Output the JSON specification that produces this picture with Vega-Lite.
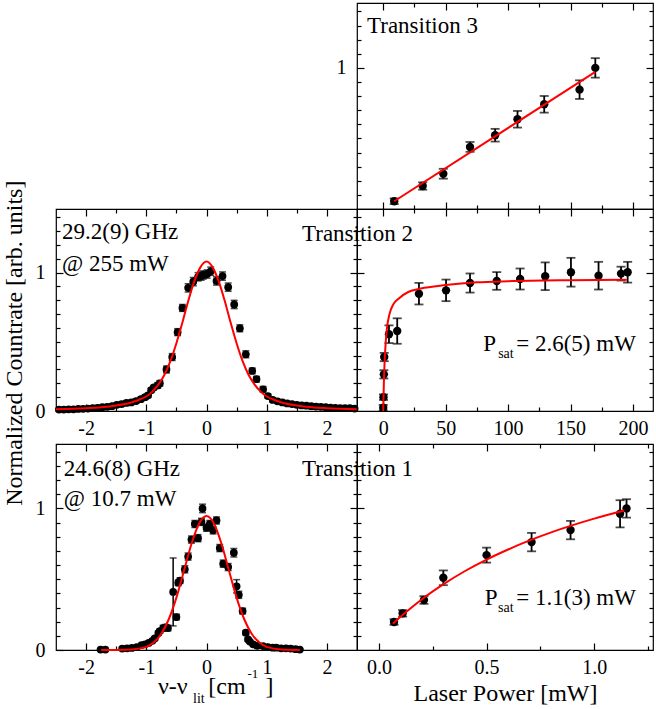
{
 "$schema": "https://vega.github.io/schema/vega-lite/v6.json",
 "padding": {"left": 2, "top": 0, "right": 0, "bottom": 0},
 "background": "white",
 "config": {
  "font": "Liberation Serif",
  "view": {"stroke": "black", "strokeWidth": 1.2},
  "axis": {"labelFont": "Liberation Serif", "labelFontSize": 20, "labelColor": "black", "tickColor": "black", "tickWidth": 1.2, "domain": false, "grid": false, "titleFont": "Liberation Serif", "titleFontSize": 24, "titleFontWeight": "normal", "titleColor": "black", "labelOverlap": false, "labelBound": false, "labelFlush": false}
 },
 "datasets": {
  "one": [{}],
  "t3": [{"x":8.8,"y":0.055,"e":0.02},{"x":31.6,"y":0.163,"e":0.026},{"x":48.1,"y":0.25,"e":0.035},{"x":69.5,"y":0.44,"e":0.035},{"x":89.6,"y":0.523,"e":0.045},{"x":107.5,"y":0.636,"e":0.059},{"x":128.9,"y":0.742,"e":0.059},{"x":157.2,"y":0.846,"e":0.066},{"x":169.8,"y":1.0,"e":0.069}],
  "t3fit": [{"x":8.8,"y":0.055},{"x":169.8,"y":0.972}],
  "t2": [{"x":0,"y":0.024,"e":0.02},{"x":0.2,"y":0.10,"e":0.02},{"x":0.5,"y":0.265,"e":0.03},{"x":0.8,"y":0.39,"e":0.03},{"x":4.6,"y":0.555,"e":0.064},{"x":11.2,"y":0.578,"e":0.092},{"x":28.6,"y":0.848,"e":0.078},{"x":50.3,"y":0.872,"e":0.078},{"x":69.5,"y":0.925,"e":0.069},{"x":90.9,"y":0.94,"e":0.064},{"x":109.6,"y":0.954,"e":0.076},{"x":129.7,"y":0.974,"e":0.1},{"x":150.3,"y":1.003,"e":0.104},{"x":172.4,"y":0.978,"e":0.1},{"x":190.4,"y":0.993,"e":0.05},{"x":195.7,"y":1.003,"e":0.075}],
  "t2fit": [{"x":0,"y":0},{"x":0.5,"y":0.2},{"x":1,"y":0.33},{"x":2,"y":0.5},{"x":3,"y":0.6},{"x":5,"y":0.7},{"x":8,"y":0.77},{"x":12,"y":0.81},{"x":20,"y":0.86},{"x":30,"y":0.885},{"x":50,"y":0.91},{"x":75,"y":0.93},{"x":100,"y":0.938},{"x":150,"y":0.945},{"x":195,"y":0.948}],
  "t1": [{"x":0.07,"y":0.198,"e":0.02},{"x":0.11,"y":0.259,"e":0.023},{"x":0.209,"y":0.353,"e":0.027},{"x":0.299,"y":0.51,"e":0.052},{"x":0.5,"y":0.67,"e":0.053},{"x":0.709,"y":0.762,"e":0.065},{"x":0.89,"y":0.847,"e":0.065},{"x":1.12,"y":0.962,"e":0.096},{"x":1.15,"y":1.0,"e":0.065}],
  "t1fit": [{"x":0.065,"y":0.186},{"x":0.1,"y":0.234},{"x":0.15,"y":0.299},{"x":0.2,"y":0.359},{"x":0.3,"y":0.465},{"x":0.4,"y":0.558},{"x":0.5,"y":0.639},{"x":0.6,"y":0.71},{"x":0.7,"y":0.774},{"x":0.8,"y":0.831},{"x":0.9,"y":0.882},{"x":1.0,"y":0.928},{"x":1.14,"y":0.985}],
  "s2": [{"x":-2.45,"y":0.01,"e":0.01},{"x":-2.37,"y":0.01,"e":0.01},{"x":-2.29,"y":0.012,"e":0.01},{"x":-2.21,"y":0.012,"e":0.01},{"x":-2.13,"y":0.015,"e":0.01},{"x":-2.05,"y":0.016,"e":0.01},{"x":-1.97,"y":0.018,"e":0.01},{"x":-1.89,"y":0.02,"e":0.01},{"x":-1.81,"y":0.022,"e":0.01},{"x":-1.73,"y":0.028,"e":0.01},{"x":-1.65,"y":0.03,"e":0.012},{"x":-1.57,"y":0.035,"e":0.012},{"x":-1.49,"y":0.045,"e":0.012},{"x":-1.41,"y":0.05,"e":0.012},{"x":-1.33,"y":0.058,"e":0.012},{"x":-1.25,"y":0.062,"e":0.012},{"x":-1.17,"y":0.072,"e":0.015},{"x":-1.09,"y":0.085,"e":0.015},{"x":-1.02,"y":0.1,"e":0.015},{"x":-0.97,"y":0.113,"e":0.015},{"x":-0.92,"y":0.15,"e":0.015},{"x":-0.875,"y":0.17,"e":0.015},{"x":-0.81,"y":0.185,"e":0.02},{"x":-0.775,"y":0.2,"e":0.02},{"x":-0.665,"y":0.3,"e":0.025},{"x":-0.57,"y":0.39,"e":0.025},{"x":-0.48,"y":0.57,"e":0.025},{"x":-0.4,"y":0.745,"e":0.025},{"x":-0.305,"y":0.89,"e":0.03},{"x":-0.22,"y":0.935,"e":0.03},{"x":-0.14,"y":0.97,"e":0.03},{"x":-0.09,"y":0.975,"e":0.03},{"x":-0.055,"y":0.983,"e":0.03},{"x":0.01,"y":0.99,"e":0.03},{"x":0.07,"y":1.01,"e":0.03},{"x":0.166,"y":0.94,"e":0.03},{"x":0.266,"y":0.975,"e":0.03},{"x":0.36,"y":0.895,"e":0.03},{"x":0.46,"y":0.77,"e":0.03},{"x":0.554,"y":0.598,"e":0.025},{"x":0.653,"y":0.41,"e":0.025},{"x":0.76,"y":0.29,"e":0.02},{"x":0.83,"y":0.23,"e":0.02},{"x":0.94,"y":0.157,"e":0.02},{"x":1.02,"y":0.108,"e":0.015},{"x":1.1,"y":0.08,"e":0.015},{"x":1.18,"y":0.07,"e":0.012},{"x":1.26,"y":0.062,"e":0.012},{"x":1.34,"y":0.055,"e":0.012},{"x":1.42,"y":0.05,"e":0.012},{"x":1.5,"y":0.045,"e":0.01},{"x":1.58,"y":0.04,"e":0.01},{"x":1.66,"y":0.038,"e":0.01},{"x":1.74,"y":0.035,"e":0.01},{"x":1.82,"y":0.032,"e":0.01},{"x":1.9,"y":0.03,"e":0.01},{"x":1.98,"y":0.028,"e":0.01},{"x":2.06,"y":0.025,"e":0.01},{"x":2.14,"y":0.022,"e":0.01},{"x":2.22,"y":0.02,"e":0.01},{"x":2.3,"y":0.02,"e":0.01},{"x":2.38,"y":0.02,"e":0.01},{"x":2.46,"y":0.018,"e":0.01}],
  "s2fit": [{"x":-2.5,"y":0.012},{"x":-2.0,"y":0.02},{"x":-1.75,"y":0.027},{"x":-1.5,"y":0.04},{"x":-1.25,"y":0.062},{"x":-1.1,"y":0.085},{"x":-1.0,"y":0.105},{"x":-0.9,"y":0.14},{"x":-0.8,"y":0.19},{"x":-0.7,"y":0.26},{"x":-0.6,"y":0.36},{"x":-0.5,"y":0.49},{"x":-0.4,"y":0.64},{"x":-0.3,"y":0.8},{"x":-0.2,"y":0.94},{"x":-0.1,"y":1.04},{"x":0,"y":1.08},{"x":0.1,"y":1.04},{"x":0.2,"y":0.94},{"x":0.3,"y":0.8},{"x":0.4,"y":0.64},{"x":0.5,"y":0.49},{"x":0.6,"y":0.36},{"x":0.7,"y":0.26},{"x":0.8,"y":0.19},{"x":0.9,"y":0.14},{"x":1.0,"y":0.105},{"x":1.1,"y":0.085},{"x":1.25,"y":0.062},{"x":1.5,"y":0.04},{"x":1.75,"y":0.027},{"x":2.0,"y":0.02},{"x":2.5,"y":0.012}],
  "s1": [{"x":-1.76,"y":0.003,"e":0.005},{"x":-1.68,"y":0.003,"e":0.005},{"x":-1.4,"y":0.01,"e":0.008},{"x":-1.32,"y":0.012,"e":0.008},{"x":-1.24,"y":0.015,"e":0.008},{"x":-1.16,"y":0.02,"e":0.008},{"x":-1.08,"y":0.035,"e":0.01},{"x":-1.02,"y":0.04,"e":0.01},{"x":-0.96,"y":0.05,"e":0.01},{"x":-0.9,"y":0.065,"e":0.012},{"x":-0.86,"y":0.082,"e":0.012},{"x":-0.8,"y":0.12,"e":0.015},{"x":-0.775,"y":0.134,"e":0.015},{"x":-0.72,"y":0.155,"e":0.02},{"x":-0.68,"y":0.16,"e":0.02},{"x":-0.64,"y":0.155,"e":0.02},{"x":-0.554,"y":0.41,"e":0.24},{"x":-0.5,"y":0.233,"e":0.02},{"x":-0.47,"y":0.475,"e":0.02},{"x":-0.44,"y":0.49,"e":0.02},{"x":-0.36,"y":0.57,"e":0.025},{"x":-0.305,"y":0.66,"e":0.025},{"x":-0.25,"y":0.78,"e":0.025},{"x":-0.194,"y":0.89,"e":0.025},{"x":-0.14,"y":0.79,"e":0.025},{"x":-0.083,"y":0.905,"e":0.025},{"x":-0.066,"y":1.0,"e":0.03},{"x":0.0,"y":0.864,"e":0.025},{"x":0.055,"y":0.89,"e":0.025},{"x":0.11,"y":0.845,"e":0.025},{"x":0.166,"y":0.915,"e":0.025},{"x":0.22,"y":0.72,"e":0.025},{"x":0.277,"y":0.61,"e":0.025},{"x":0.36,"y":0.586,"e":0.025},{"x":0.454,"y":0.687,"e":0.03},{"x":0.5,"y":0.45,"e":0.047},{"x":0.537,"y":0.39,"e":0.025},{"x":0.6,"y":0.275,"e":0.02},{"x":0.653,"y":0.122,"e":0.015},{"x":0.69,"y":0.075,"e":0.012},{"x":0.72,"y":0.06,"e":0.01},{"x":0.775,"y":0.04,"e":0.01},{"x":0.84,"y":0.03,"e":0.008},{"x":0.94,"y":0.028,"e":0.008},{"x":1.02,"y":0.02,"e":0.008},{"x":1.1,"y":0.016,"e":0.008},{"x":1.16,"y":0.016,"e":0.008},{"x":1.24,"y":0.012,"e":0.008},{"x":1.32,"y":0.012,"e":0.008},{"x":1.4,"y":0.01,"e":0.008},{"x":1.48,"y":0.006,"e":0.005},{"x":1.55,"y":0.003,"e":0.005}],
  "s1fit": [{"x":-1.75,"y":0.0},{"x":-1.5,"y":0.0002},{"x":-1.25,"y":0.003},{"x":-1.0,"y":0.022},{"x":-0.875,"y":0.054},{"x":-0.75,"y":0.115},{"x":-0.625,"y":0.219},{"x":-0.5,"y":0.37},{"x":-0.375,"y":0.558},{"x":-0.25,"y":0.749},{"x":-0.125,"y":0.892},{"x":0,"y":0.946},{"x":0.125,"y":0.892},{"x":0.25,"y":0.749},{"x":0.375,"y":0.558},{"x":0.5,"y":0.37},{"x":0.625,"y":0.219},{"x":0.75,"y":0.115},{"x":0.875,"y":0.054},{"x":1.0,"y":0.022},{"x":1.25,"y":0.003},{"x":1.55,"y":0.0}]
 },
 "columns": 2,
 "spacing": 0,
 "bounds": "flush",
 "align": "each",
 "concat": [
  {"width": 301, "height": 206, "data": {"values": []}, "mark": "point", "view": {"stroke": null}},
  {
   "width": 296, "height": 206,
   "resolve": {"axis": {"x": "independent", "y": "independent"}},
   "layer": [
    {"data": {"name": "t3"}, "mark": {"type": "errorbar", "ticks": {"size": 9}, "thickness": 1.8, "color": "black"},
     "encoding": {"x": {"field": "x", "type": "quantitative", "scale": {"domain": [-21, 216], "nice": false, "zero": false}, "axis": null},
                  "y": {"field": "y", "type": "quantitative", "scale": {"domain": [0, 1.46], "nice": false, "zero": false}, "axis": null},
                  "yError": {"field": "e"}}},
    {"data": {"name": "t3"}, "mark": {"type": "point", "filled": true, "color": "black", "size": 70, "opacity": 1},
     "encoding": {"x": {"field": "x", "type": "quantitative", "scale": {"domain": [-21, 216], "nice": false, "zero": false},
                        "axis": {"orient": "bottom", "values": [0,25,50,75,100,125,150,175,200], "labels": false, "title": null,
                                 "tickSize": {"condition": {"test": "datum.value % 50 === 0", "value": -7}, "value": -4}}},
                  "y": {"field": "y", "type": "quantitative", "scale": {"domain": [0, 1.46], "nice": false, "zero": false},
                        "axis": {"orient": "left", "values": [0.1,0.2,0.3,0.4,0.5,0.6,0.7,0.8,0.9,1,1.1,1.2,1.3,1.4], "title": null, "labelPadding": 18,
                                 "labelExpr": "datum.value === 1 ? '1' : ''",
                                 "tickSize": {"condition": {"test": "datum.value === 1", "value": -7}, "value": -4}}}}},
    {"data": {"name": "t3fit"}, "mark": {"type": "line", "color": "#ff0000", "strokeWidth": 2},
     "encoding": {"x": {"field": "x", "type": "quantitative", "scale": {"domain": [-21, 216], "nice": false, "zero": false},
                        "axis": {"orient": "top", "values": [0,25,50,75,100,125,150,175,200], "labels": false, "title": null,
                                 "tickSize": {"condition": {"test": "datum.value % 50 === 0", "value": -7}, "value": -4}}},
                  "y": {"field": "y", "type": "quantitative", "scale": {"domain": [0, 1.46], "nice": false, "zero": false},
                        "axis": {"orient": "right", "values": [0.1,0.2,0.3,0.4,0.5,0.6,0.7,0.8,0.9,1,1.1,1.2,1.3,1.4], "labels": false, "title": null,
                                 "tickSize": {"condition": {"test": "datum.value === 1", "value": -7}, "value": -4}}}}},
    {"data": {"name": "one"}, "mark": {"type": "text", "align": "left", "baseline": "alphabetic", "fontSize": 23, "color": "black"},
     "encoding": {"x": {"datum": -13, "type": "quantitative", "scale": {"domain": [-21, 216], "nice": false, "zero": false}, "axis": null},
                  "y": {"datum": 1.247, "type": "quantitative", "scale": {"domain": [0, 1.46], "nice": false, "zero": false}, "axis": null},
                  "text": {"value": "Transition 3"}}}
   ]
  },
  {
   "width": 301, "height": 202,
   "resolve": {"axis": {"x": "independent", "y": "independent"}},
   "layer": [
    {"data": {"name": "s2"}, "mark": {"type": "errorbar", "ticks": {"size": 7}, "thickness": 1.5, "color": "black"},
     "encoding": {"x": {"field": "x", "type": "quantitative", "scale": {"domain": [-2.5, 2.5], "nice": false, "zero": false}, "axis": null},
                  "y": {"field": "y", "type": "quantitative", "scale": {"domain": [0, 1.46], "nice": false, "zero": false}, "axis": null},
                  "yError": {"field": "e"}}},
    {"data": {"name": "s2"}, "mark": {"type": "point", "filled": true, "color": "black", "size": 60, "opacity": 1},
     "encoding": {"x": {"field": "x", "type": "quantitative", "scale": {"domain": [-2.5, 2.5], "nice": false, "zero": false},
                        "axis": {"orient": "bottom", "values": [-2,-1.5,-1,-0.5,0,0.5,1,1.5,2], "title": null, "labelPadding": 14,
                                 "labelExpr": "abs(datum.value - round(datum.value)) < 0.001 ? '' + datum.value : ''",
                                 "tickSize": {"condition": {"test": "abs(datum.value - round(datum.value)) < 0.001", "value": -7}, "value": -4}}},
                  "y": {"field": "y", "type": "quantitative", "scale": {"domain": [0, 1.46], "nice": false, "zero": false},
                        "axis": {"orient": "left", "values": [0,0.1,0.2,0.3,0.4,0.5,0.6,0.7,0.8,0.9,1,1.1,1.2,1.3,1.4], "title": null, "labelPadding": 18,
                                 "labelExpr": "datum.value === 0 || datum.value === 1 ? '' + datum.value : ''",
                                 "tickSize": {"condition": {"test": "datum.value === 0 || datum.value === 1", "value": -7}, "value": -4}}}}},
    {"data": {"name": "s2fit"}, "mark": {"type": "line", "color": "#ff0000", "strokeWidth": 2, "interpolate": "monotone"},
     "encoding": {"x": {"field": "x", "type": "quantitative", "scale": {"domain": [-2.5, 2.5], "nice": false, "zero": false},
                        "axis": {"orient": "top", "values": [-2,-1.5,-1,-0.5,0,0.5,1,1.5,2], "labels": false, "title": null,
                                 "tickSize": {"condition": {"test": "abs(datum.value - round(datum.value)) < 0.001", "value": -7}, "value": -4}}},
                  "y": {"field": "y", "type": "quantitative", "scale": {"domain": [0, 1.46], "nice": false, "zero": false},
                        "axis": {"orient": "right", "values": [0.1,0.2,0.3,0.4,0.5,0.6,0.7,0.8,0.9,1,1.1,1.2,1.3,1.4], "labels": false, "title": null,
                                 "tickSize": {"condition": {"test": "datum.value === 1", "value": -7}, "value": -4}}}}},
    {"data": {"name": "one"}, "mark": {"type": "text", "align": "left", "baseline": "alphabetic", "fontSize": 23, "color": "black"},
     "encoding": {"x": {"datum": -2.4, "type": "quantitative", "scale": {"domain": [-2.5, 2.5], "nice": false, "zero": false}, "axis": null},
                  "y": {"datum": 1.244, "type": "quantitative", "scale": {"domain": [0, 1.46], "nice": false, "zero": false}, "axis": null},
                  "text": {"value": "29.2(9) GHz"}}},
    {"data": {"name": "one"}, "mark": {"type": "text", "align": "left", "baseline": "alphabetic", "fontSize": 23, "color": "black"},
     "encoding": {"x": {"datum": -2.4, "type": "quantitative", "scale": {"domain": [-2.5, 2.5], "nice": false, "zero": false}, "axis": null},
                  "y": {"datum": 1.012, "type": "quantitative", "scale": {"domain": [0, 1.46], "nice": false, "zero": false}, "axis": null},
                  "text": {"value": "@ 255 mW"}}},
    {"data": {"name": "one"}, "mark": {"type": "text", "align": "left", "baseline": "alphabetic", "fontSize": 23, "color": "black"},
     "encoding": {"x": {"datum": 1.586, "type": "quantitative", "scale": {"domain": [-2.5, 2.5], "nice": false, "zero": false}, "axis": null},
                  "y": {"datum": 1.229, "type": "quantitative", "scale": {"domain": [0, 1.46], "nice": false, "zero": false}, "axis": null},
                  "text": {"value": "Transition 2"}}},
    {"data": {"name": "one"}, "mark": {"type": "text", "align": "center", "baseline": "alphabetic", "angle": 270, "fontSize": 24, "color": "black"},
     "encoding": {"x": {"datum": -3.065, "type": "quantitative", "scale": {"domain": [-2.5, 2.5], "nice": false, "zero": false}, "axis": null},
                  "y": {"datum": 0.49, "type": "quantitative", "scale": {"domain": [0, 1.46], "nice": false, "zero": false}, "axis": null},
                  "text": {"value": "Normalized Countrate [arb. units]"}}}
   ]
  },
  {
   "width": 296, "height": 202,
   "resolve": {"axis": {"x": "independent", "y": "independent"}},
   "layer": [
    {"data": {"name": "t2"}, "mark": {"type": "errorbar", "ticks": {"size": 9}, "thickness": 1.8, "color": "black"},
     "encoding": {"x": {"field": "x", "type": "quantitative", "scale": {"domain": [-21, 216], "nice": false, "zero": false}, "axis": null},
                  "y": {"field": "y", "type": "quantitative", "scale": {"domain": [0, 1.46], "nice": false, "zero": false}, "axis": null},
                  "yError": {"field": "e"}}},
    {"data": {"name": "t2"}, "mark": {"type": "point", "filled": true, "color": "black", "size": 70, "opacity": 1},
     "encoding": {"x": {"field": "x", "type": "quantitative", "scale": {"domain": [-21, 216], "nice": false, "zero": false},
                        "axis": {"orient": "bottom", "values": [0,25,50,75,100,125,150,175,200], "title": null, "labelPadding": 14,
                                 "labelExpr": "datum.value % 50 === 0 ? '' + datum.value : ''",
                                 "tickSize": {"condition": {"test": "datum.value % 50 === 0", "value": -7}, "value": -4}}},
                  "y": {"field": "y", "type": "quantitative", "scale": {"domain": [0, 1.46], "nice": false, "zero": false},
                        "axis": {"orient": "left", "values": [0.1,0.2,0.3,0.4,0.5,0.6,0.7,0.8,0.9,1,1.1,1.2,1.3,1.4], "labels": false, "title": null,
                                 "tickSize": {"condition": {"test": "datum.value === 1", "value": -7}, "value": -4}}}}},
    {"data": {"name": "t2fit"}, "mark": {"type": "line", "color": "#ff0000", "strokeWidth": 2, "interpolate": "monotone"},
     "encoding": {"x": {"field": "x", "type": "quantitative", "scale": {"domain": [-21, 216], "nice": false, "zero": false},
                        "axis": {"orient": "top", "values": [0,25,50,75,100,125,150,175,200], "labels": false, "title": null,
                                 "tickSize": {"condition": {"test": "datum.value % 50 === 0", "value": -7}, "value": -4}}},
                  "y": {"field": "y", "type": "quantitative", "scale": {"domain": [0, 1.46], "nice": false, "zero": false},
                        "axis": {"orient": "right", "values": [0.1,0.2,0.3,0.4,0.5,0.6,0.7,0.8,0.9,1,1.1,1.2,1.3,1.4], "labels": false, "title": null,
                                 "tickSize": {"condition": {"test": "datum.value === 1", "value": -7}, "value": -4}}}}},
    {"data": {"name": "one"}, "mark": {"type": "text", "align": "left", "baseline": "alphabetic", "fontSize": 23, "color": "black"},
     "encoding": {"x": {"datum": 80, "type": "quantitative", "scale": {"domain": [-21, 216], "nice": false, "zero": false}, "axis": null},
                  "y": {"datum": 0.434, "type": "quantitative", "scale": {"domain": [0, 1.46], "nice": false, "zero": false}, "axis": null},
                  "text": {"value": "P"}}},
    {"data": {"name": "one"}, "mark": {"type": "text", "align": "left", "baseline": "alphabetic", "fontSize": 14, "color": "black"},
     "encoding": {"x": {"datum": 92, "type": "quantitative", "scale": {"domain": [-21, 216], "nice": false, "zero": false}, "axis": null},
                  "y": {"datum": 0.383, "type": "quantitative", "scale": {"domain": [0, 1.46], "nice": false, "zero": false}, "axis": null},
                  "text": {"value": "sat"}}},
    {"data": {"name": "one"}, "mark": {"type": "text", "align": "left", "baseline": "alphabetic", "fontSize": 23, "color": "black"},
     "encoding": {"x": {"datum": 106.5, "type": "quantitative", "scale": {"domain": [-21, 216], "nice": false, "zero": false}, "axis": null},
                  "y": {"datum": 0.434, "type": "quantitative", "scale": {"domain": [0, 1.46], "nice": false, "zero": false}, "axis": null},
                  "text": {"value": "= 2.6(5) mW"}}}
   ]
  },
  {"width": 301, "height": 33, "data": {"values": []}, "mark": "point", "view": {"stroke": null}},
  {"width": 296, "height": 33, "data": {"values": []}, "mark": "point", "view": {"stroke": null}},
  {
   "width": 301, "height": 206,
   "resolve": {"axis": {"x": "independent", "y": "independent"}},
   "layer": [
    {"data": {"name": "s1"}, "mark": {"type": "errorbar", "ticks": {"size": 7}, "thickness": 1.5, "color": "black"},
     "encoding": {"x": {"field": "x", "type": "quantitative", "scale": {"domain": [-2.5, 2.5], "nice": false, "zero": false}, "axis": null},
                  "y": {"field": "y", "type": "quantitative", "scale": {"domain": [0, 1.455], "nice": false, "zero": false}, "axis": null},
                  "yError": {"field": "e"}}},
    {"data": {"name": "s1"}, "mark": {"type": "point", "filled": true, "color": "black", "size": 60, "opacity": 1},
     "encoding": {"x": {"field": "x", "type": "quantitative", "scale": {"domain": [-2.5, 2.5], "nice": false, "zero": false},
                        "axis": {"orient": "bottom", "values": [-2,-1.5,-1,-0.5,0,0.5,1,1.5,2], "title": null, "labelPadding": 14,
                                 "labelExpr": "abs(datum.value - round(datum.value)) < 0.001 ? '' + datum.value : ''",
                                 "tickSize": {"condition": {"test": "abs(datum.value - round(datum.value)) < 0.001", "value": -7}, "value": -4}}},
                  "y": {"field": "y", "type": "quantitative", "scale": {"domain": [0, 1.455], "nice": false, "zero": false},
                        "axis": {"orient": "left", "values": [0,0.1,0.2,0.3,0.4,0.5,0.6,0.7,0.8,0.9,1,1.1,1.2,1.3,1.4], "title": null, "labelPadding": 18,
                                 "labelExpr": "datum.value === 0 || datum.value === 1 ? '' + datum.value : ''",
                                 "tickSize": {"condition": {"test": "datum.value === 0 || datum.value === 1", "value": -7}, "value": -4}}}}},
    {"data": {"name": "s1fit"}, "mark": {"type": "line", "color": "#ff0000", "strokeWidth": 2, "interpolate": "monotone"},
     "encoding": {"x": {"field": "x", "type": "quantitative", "scale": {"domain": [-2.5, 2.5], "nice": false, "zero": false},
                        "axis": {"orient": "top", "values": [-2,-1.5,-1,-0.5,0,0.5,1,1.5,2], "labels": false, "title": null,
                                 "tickSize": {"condition": {"test": "abs(datum.value - round(datum.value)) < 0.001", "value": -7}, "value": -4}}},
                  "y": {"field": "y", "type": "quantitative", "scale": {"domain": [0, 1.455], "nice": false, "zero": false},
                        "axis": {"orient": "right", "values": [0.1,0.2,0.3,0.4,0.5,0.6,0.7,0.8,0.9,1,1.1,1.2,1.3,1.4], "labels": false, "title": null,
                                 "tickSize": {"condition": {"test": "datum.value === 1", "value": -7}, "value": -4}}}}},
    {"data": {"name": "one"}, "mark": {"type": "text", "align": "left", "baseline": "alphabetic", "fontSize": 23, "color": "black"},
     "encoding": {"x": {"datum": -2.37, "type": "quantitative", "scale": {"domain": [-2.5, 2.5], "nice": false, "zero": false}, "axis": null},
                  "y": {"datum": 1.228, "type": "quantitative", "scale": {"domain": [0, 1.455], "nice": false, "zero": false}, "axis": null},
                  "text": {"value": "24.6(8) GHz"}}},
    {"data": {"name": "one"}, "mark": {"type": "text", "align": "left", "baseline": "alphabetic", "fontSize": 23, "color": "black"},
     "encoding": {"x": {"datum": -2.37, "type": "quantitative", "scale": {"domain": [-2.5, 2.5], "nice": false, "zero": false}, "axis": null},
                  "y": {"datum": 1.016, "type": "quantitative", "scale": {"domain": [0, 1.455], "nice": false, "zero": false}, "axis": null},
                  "text": {"value": "@ 10.7 mW"}}},
    {"data": {"name": "one"}, "mark": {"type": "text", "align": "left", "baseline": "alphabetic", "fontSize": 23, "color": "black"},
     "encoding": {"x": {"datum": 1.586, "type": "quantitative", "scale": {"domain": [-2.5, 2.5], "nice": false, "zero": false}, "axis": null},
                  "y": {"datum": 1.228, "type": "quantitative", "scale": {"domain": [0, 1.455], "nice": false, "zero": false}, "axis": null},
                  "text": {"value": "Transition 1"}}},
    {"data": {"name": "one"}, "mark": {"type": "text", "align": "left", "baseline": "alphabetic", "fontSize": 24, "color": "black"},
     "encoding": {"x": {"datum": -0.806, "type": "quantitative", "scale": {"domain": [-2.5, 2.5], "nice": false, "zero": false}, "axis": null},
                  "y": {"datum": -0.311, "type": "quantitative", "scale": {"domain": [0, 1.455], "nice": false, "zero": false}, "axis": null},
                  "text": {"value": "ν-ν"}}},
    {"data": {"name": "one"}, "mark": {"type": "text", "align": "left", "baseline": "alphabetic", "fontSize": 14, "color": "black"},
     "encoding": {"x": {"datum": -0.224, "type": "quantitative", "scale": {"domain": [-2.5, 2.5], "nice": false, "zero": false}, "axis": null},
                  "y": {"datum": -0.375, "type": "quantitative", "scale": {"domain": [0, 1.455], "nice": false, "zero": false}, "axis": null},
                  "text": {"value": "lit"}}},
    {"data": {"name": "one"}, "mark": {"type": "text", "align": "left", "baseline": "alphabetic", "fontSize": 24, "color": "black"},
     "encoding": {"x": {"datum": 0.03, "type": "quantitative", "scale": {"domain": [-2.5, 2.5], "nice": false, "zero": false}, "axis": null},
                  "y": {"datum": -0.311, "type": "quantitative", "scale": {"domain": [0, 1.455], "nice": false, "zero": false}, "axis": null},
                  "text": {"value": "[cm"}}},
    {"data": {"name": "one"}, "mark": {"type": "text", "align": "left", "baseline": "alphabetic", "fontSize": 13, "color": "black"},
     "encoding": {"x": {"datum": 0.68, "type": "quantitative", "scale": {"domain": [-2.5, 2.5], "nice": false, "zero": false}, "axis": null},
                  "y": {"datum": -0.2, "type": "quantitative", "scale": {"domain": [0, 1.455], "nice": false, "zero": false}, "axis": null},
                  "text": {"value": "-1"}}},
    {"data": {"name": "one"}, "mark": {"type": "text", "align": "left", "baseline": "alphabetic", "fontSize": 24, "color": "black"},
     "encoding": {"x": {"datum": 0.98, "type": "quantitative", "scale": {"domain": [-2.5, 2.5], "nice": false, "zero": false}, "axis": null},
                  "y": {"datum": -0.311, "type": "quantitative", "scale": {"domain": [0, 1.455], "nice": false, "zero": false}, "axis": null},
                  "text": {"value": "]"}}}
   ]
  },
  {
   "width": 296, "height": 206,
   "resolve": {"axis": {"x": "independent", "y": "independent"}},
   "layer": [
    {"data": {"name": "t1"}, "mark": {"type": "errorbar", "ticks": {"size": 9}, "thickness": 1.8, "color": "black"},
     "encoding": {"x": {"field": "x", "type": "quantitative", "scale": {"domain": [-0.102, 1.273], "nice": false, "zero": false}, "axis": null},
                  "y": {"field": "y", "type": "quantitative", "scale": {"domain": [0, 1.455], "nice": false, "zero": false}, "axis": null},
                  "yError": {"field": "e"}}},
    {"data": {"name": "t1"}, "mark": {"type": "point", "filled": true, "color": "black", "size": 70, "opacity": 1},
     "encoding": {"x": {"field": "x", "type": "quantitative", "scale": {"domain": [-0.102, 1.273], "nice": false, "zero": false},
                        "axis": {"orient": "bottom", "values": [0,0.25,0.5,0.75,1,1.25], "title": "Laser Power [mW]", "labelPadding": 14, "titlePadding": 1,
                                 "labelExpr": "abs(datum.value*2 - round(datum.value*2)) < 0.001 ? format(datum.value, '.1f') : ''",
                                 "tickSize": {"condition": {"test": "abs(datum.value*2 - round(datum.value*2)) < 0.001", "value": -7}, "value": -4}}},
                  "y": {"field": "y", "type": "quantitative", "scale": {"domain": [0, 1.455], "nice": false, "zero": false},
                        "axis": {"orient": "left", "values": [0.1,0.2,0.3,0.4,0.5,0.6,0.7,0.8,0.9,1,1.1,1.2,1.3,1.4], "labels": false, "title": null,
                                 "tickSize": {"condition": {"test": "datum.value === 1", "value": -7}, "value": -4}}}}},
    {"data": {"name": "t1fit"}, "mark": {"type": "line", "color": "#ff0000", "strokeWidth": 2, "interpolate": "monotone"},
     "encoding": {"x": {"field": "x", "type": "quantitative", "scale": {"domain": [-0.102, 1.273], "nice": false, "zero": false},
                        "axis": {"orient": "top", "values": [0,0.25,0.5,0.75,1,1.25], "labels": false, "title": null,
                                 "tickSize": {"condition": {"test": "abs(datum.value*2 - round(datum.value*2)) < 0.001", "value": -7}, "value": -4}}},
                  "y": {"field": "y", "type": "quantitative", "scale": {"domain": [0, 1.455], "nice": false, "zero": false},
                        "axis": {"orient": "right", "values": [0.1,0.2,0.3,0.4,0.5,0.6,0.7,0.8,0.9,1,1.1,1.2,1.3,1.4], "labels": false, "title": null,
                                 "tickSize": {"condition": {"test": "datum.value === 1", "value": -7}, "value": -4}}}}},
    {"data": {"name": "one"}, "mark": {"type": "text", "align": "left", "baseline": "alphabetic", "fontSize": 23, "color": "black"},
     "encoding": {"x": {"datum": 0.492, "type": "quantitative", "scale": {"domain": [-0.102, 1.273], "nice": false, "zero": false}, "axis": null},
                  "y": {"datum": 0.318, "type": "quantitative", "scale": {"domain": [0, 1.455], "nice": false, "zero": false}, "axis": null},
                  "text": {"value": "P"}}},
    {"data": {"name": "one"}, "mark": {"type": "text", "align": "left", "baseline": "alphabetic", "fontSize": 14, "color": "black"},
     "encoding": {"x": {"datum": 0.553, "type": "quantitative", "scale": {"domain": [-0.102, 1.273], "nice": false, "zero": false}, "axis": null},
                  "y": {"datum": 0.268, "type": "quantitative", "scale": {"domain": [0, 1.455], "nice": false, "zero": false}, "axis": null},
                  "text": {"value": "sat"}}},
    {"data": {"name": "one"}, "mark": {"type": "text", "align": "left", "baseline": "alphabetic", "fontSize": 23, "color": "black"},
     "encoding": {"x": {"datum": 0.638, "type": "quantitative", "scale": {"domain": [-0.102, 1.273], "nice": false, "zero": false}, "axis": null},
                  "y": {"datum": 0.318, "type": "quantitative", "scale": {"domain": [0, 1.455], "nice": false, "zero": false}, "axis": null},
                  "text": {"value": "= 1.1(3) mW"}}}
   ]
  }
 ]
}
